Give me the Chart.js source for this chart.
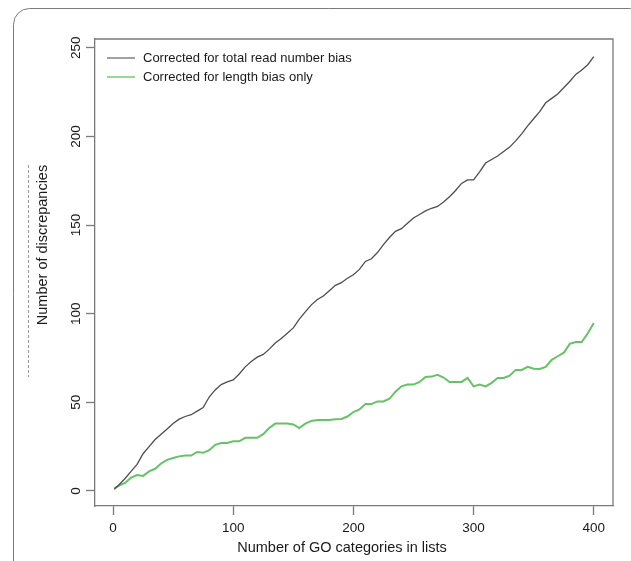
<!DOCTYPE html>
<html lang="en">
<head>
<meta charset="UTF-8">
<title>Number of discrepancies</title>
<script src="https://cdn.jsdelivr.net/npm/chart.js"></script>
<style>
  body { margin: 0; background: #fff; }
  canvas { display: block; }
</style>
</head>
<body>
<canvas id="discChart" width="631" height="561"></canvas>
<script>
// x = number of GO categories in the lists
const goCounts = [1, 5, 10, 15, 20, 25, 30, 35, 40, 45, 50, 55, 60, 65, 70, 75, 80, 85, 90, 95,
  100, 105, 110, 115, 120, 125, 130, 135, 140, 145, 150, 155, 160, 165, 170, 175, 180, 185, 190, 195,
  200, 205, 210, 215, 220, 225, 230, 235, 240, 245, 250, 255, 260, 265, 270, 275, 280, 285, 290, 295,
  300, 305, 310, 315, 320, 325, 330, 335, 340, 345, 350, 355, 360, 365, 370, 375, 380, 385, 390, 395, 400];

const totalReadCorrected = [1, 3.5, 7, 11, 15, 21, 25, 29, 32, 35, 38, 40.5, 42, 43, 45, 47, 53, 57, 60, 61.5,
  62.6, 66, 70, 73, 75.5, 77, 80, 83.5, 86, 89, 92, 97, 101, 105, 108, 110, 113, 116, 117.5, 120,
  122, 125, 129.5, 131, 134.5, 139, 143, 146.5, 148, 151, 154, 156, 158, 159.5, 160.5, 163, 166, 169.5, 173.5, 175.5,
  175.5, 180, 185, 187, 189, 191.5, 194, 197.5, 201.5, 206, 210, 214, 219, 221.5, 224, 227.5, 231, 235, 237.5, 240.5, 245];

const lengthOnlyCorrected = [1.5, 3, 4.5, 7.5, 9, 8.5, 11, 12.5, 15.5, 17.5, 18.6, 19.5, 20, 20, 22, 21.5, 23, 26, 27, 27,
  28, 28, 30, 30, 30, 32, 35.5, 38, 38, 38, 37.5, 35.5, 38, 39.5, 40, 40, 40, 40.5, 40.6, 42,
  44.5, 46, 49, 49, 50.5, 50.5, 52, 56, 59, 60, 60, 61.5, 64.3, 64.5, 65.5, 64, 61.5, 61.5, 61.5, 63.8,
  59, 60, 59, 61, 63.7, 63.7, 65, 68.3, 68.3, 70, 69, 68.8, 70, 74, 76, 78, 83, 84, 84, 89, 94.8];

const xTicks = [0, 100, 200, 300, 400];
const yTicks = [0, 50, 100, 150, 200, 250];

const axisGrey = '#7a7a7a';
const font = 'Liberation Sans, Arial, Helvetica, sans-serif';

function toPoints(ys) {
  return goCounts.map((x, i) => ({ x: x, y: ys[i] }));
}

// frame, axis titles, top/right box edges and the legend
const decorations = {
  id: 'decorations',
  beforeDraw(chart) {
    const c = chart.ctx;
    c.save();
    c.strokeStyle = axisGrey;
    c.lineWidth = 1;
    c.beginPath();
    c.roundRect(13.5, 8.5, 632, 600, 16);
    c.stroke();
    c.setLineDash([3, 2]);
    c.strokeStyle = '#999';
    c.beginPath();
    c.moveTo(28.5, 165);
    c.lineTo(28.5, 377);
    c.stroke();
    c.restore();
  },
  afterDraw(chart) {
    const c = chart.ctx;
    const a = chart.chartArea;
    c.save();
    c.strokeStyle = axisGrey;
    c.lineWidth = 1.3;
    c.beginPath();
    c.moveTo(a.left, a.top);
    c.lineTo(a.right, a.top);
    c.lineTo(a.right, a.bottom);
    c.stroke();

    c.fillStyle = '#1a1a1a';
    c.font = '14.5px ' + font;
    c.textAlign = 'center';
    c.textBaseline = 'middle';
    c.fillText('Number of GO categories in lists', 342, 548);
    c.translate(43, 245);
    c.rotate(-Math.PI / 2);
    c.fillText('Number of discrepancies', 0, 0);
    c.restore();

    c.save();
    c.font = '13px ' + font;
    c.textBaseline = 'middle';
    c.fillStyle = '#1a1a1a';
    chart.data.datasets.forEach((ds, i) => {
      const y = a.top + 19 + i * 19;
      c.strokeStyle = ds.legendColor;
      c.lineWidth = 1.6;
      c.beginPath();
      c.moveTo(a.left + 12, y);
      c.lineTo(a.left + 40, y);
      c.stroke();
      c.fillText(ds.label, a.left + 48, y);
    });
    c.restore();
  }
};

new Chart(document.getElementById('discChart'), {
  type: 'line',
  data: {
    datasets: [{
      label: 'Corrected for total read number bias',
      data: toPoints(totalReadCorrected),
      borderColor: '#4d4d4d',
      legendColor: '#8a8a8a',
      borderWidth: 1.3,
      pointRadius: 0,
      tension: 0
    }, {
      label: 'Corrected for length bias only',
      data: toPoints(lengthOnlyCorrected),
      borderColor: '#66c266',
      legendColor: '#7fd07f',
      borderWidth: 2,
      pointRadius: 0,
      tension: 0
    }]
  },
  options: {
    responsive: false,
    devicePixelRatio: 1,
    animation: false,
    layout: { padding: { left: 0, top: 39, right: 18, bottom: 0 } },
    plugins: {
      legend: { display: false },
      tooltip: { enabled: false }
    },
    scales: {
      x: {
        type: 'linear',
        min: -15,
        max: 416,
        afterBuildTicks: (s) => { s.ticks = xTicks.map(v => ({ value: v })); },
        afterFit: (s) => { s.height = 55; },
        border: { display: true, color: axisGrey, width: 1.3 },
        grid: { drawOnChartArea: false, drawTicks: true, tickLength: 9, tickColor: axisGrey, tickWidth: 1.3 },
        ticks: { color: '#1a1a1a', font: { family: font, size: 13.5 }, padding: 5, maxRotation: 0 }
      },
      y: {
        type: 'linear',
        min: -8.5,
        max: 255,
        afterBuildTicks: (s) => { s.ticks = yTicks.map(v => ({ value: v })); },
        afterFit: (s) => { s.width = 95; },
        border: { display: true, color: axisGrey, width: 1.3 },
        grid: { drawOnChartArea: false, drawTicks: true, tickLength: 9, tickColor: axisGrey, tickWidth: 1.3 },
        ticks: {
          color: '#1a1a1a',
          font: { family: font, size: 13.5 },
          minRotation: 90,
          maxRotation: 90,
          crossAlign: 'center',
          padding: -2
        }
      }
    }
  },
  plugins: [decorations]
});
</script>
</body>
</html>
